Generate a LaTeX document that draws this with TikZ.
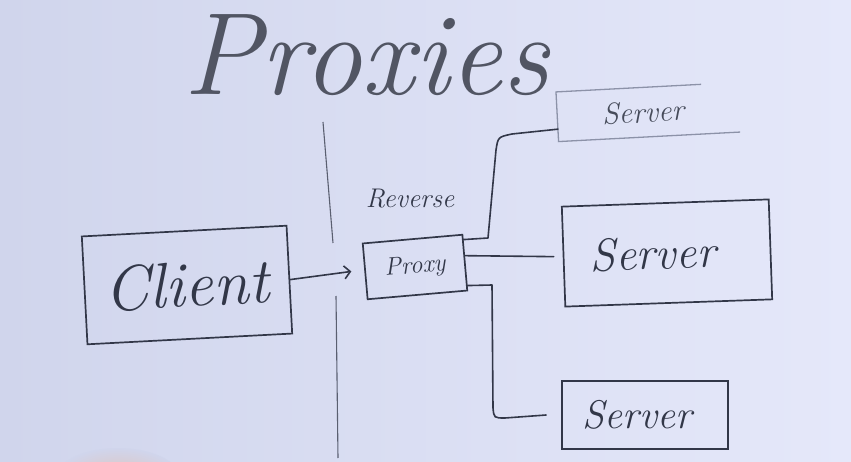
\documentclass[tikz,border=0pt]{standalone}
\usepackage{fontspec}
\usetikzlibrary{arrows.meta,calc}
\definecolor{ink}{RGB}{50,55,72}
\definecolor{faint}{RGB}{140,146,168}
\definecolor{divider}{RGB}{90,95,112}
\definecolor{boardL}{RGB}{208,213,236}
\definecolor{boardR}{RGB}{229,232,250}
\definecolor{skin}{RGB}{222,196,190}
\tikzset{
  boardbox/.style={draw=ink, line width=1.7pt, inner sep=0pt, text=ink, font=\itshape},
  wire/.style={draw=ink, line width=1.6pt, line join=round, line cap=round},
  handtext/.style={text=ink, font=\itshape, inner sep=0pt}
}
\begin{document}
\begin{tikzpicture}[x=1pt,y=-1pt]
\useasboundingbox (0,0) rectangle (851,462);
\shade[left color=boardL, right color=boardR] (0,0) rectangle (851,462);
% hand at the bottom
\shade[inner color=skin, outer color=boardL] (118,478) ellipse [x radius=62, y radius=30];

% title
\node[handtext, text=ink!85, anchor=base, font=\itshape\fontsize{117}{120}\selectfont] (title) at (366,95) {Proxies};

% divider
\draw[divider, line width=1.1pt] (323,122) -- (333,243);
\draw[divider, line width=1.1pt] (336,296) -- (338,458);

% boxes
\node[boardbox, minimum width=205pt, minimum height=108pt, rotate=3,
      font=\itshape\fontsize{64}{66}\selectfont] (client) at (187,285) {Client};
\node[boardbox, minimum width=100pt, minimum height=56pt, rotate=5,
      font=\itshape\fontsize{25}{27}\selectfont] (proxy) at (415,267) {Proxy};
\node[handtext, font=\itshape\fontsize{27}{29}\selectfont] (reverse) at (410,199) {Reverse};

\node[boardbox, draw=none, text=ink!90, minimum width=180pt, minimum height=48pt, rotate=3,
      font=\itshape\fontsize{30}{32}\selectfont] (srv1) at (648,112) {\hspace*{-10pt}Server};
\draw[faint, line width=1.3pt] ($(srv1.north west)!0.8!(srv1.north east)$) -- (srv1.north west) -- (srv1.south west) -- (srv1.south east);

\node[boardbox, minimum width=207pt, minimum height=100pt, rotate=2,
      font=\itshape\fontsize{46}{48}\selectfont] (srv2) at (667,253) {\hspace*{-28pt}Server};
\node[boardbox, minimum width=166pt, minimum height=68pt,
      font=\itshape\fontsize{40}{42}\selectfont] (srv3) at (645,415) {\hspace*{-16pt}Server};

% connectors
\draw[wire, -{Straight Barb[length=6pt,width=13pt,line width=1.6pt]}]
  (client.east) -- ([xshift=-13pt]proxy.west);
\coordinate (p1) at ($(proxy.north east)!0.1!(proxy.south east)$);
\coordinate (p2) at ($(proxy.north east)!0.38!(proxy.south east)$);
\coordinate (p3) at ($(proxy.north east)!0.9!(proxy.south east)$);
\draw[wire] (p1) -- (488,238) -- (496,150) .. controls (498,137) .. (512,134)
  -- ($(srv1.south west)!0.25!(srv1.north west)$);
\draw[wire] (p2) -- ([xshift=-9pt]srv2.west);
\draw[wire] (p3) -- (492,285) -- (493,408) .. controls (494,418) .. (505,418)
  -- ([xshift=-15pt]srv3.west);
\end{tikzpicture}
\end{document}
